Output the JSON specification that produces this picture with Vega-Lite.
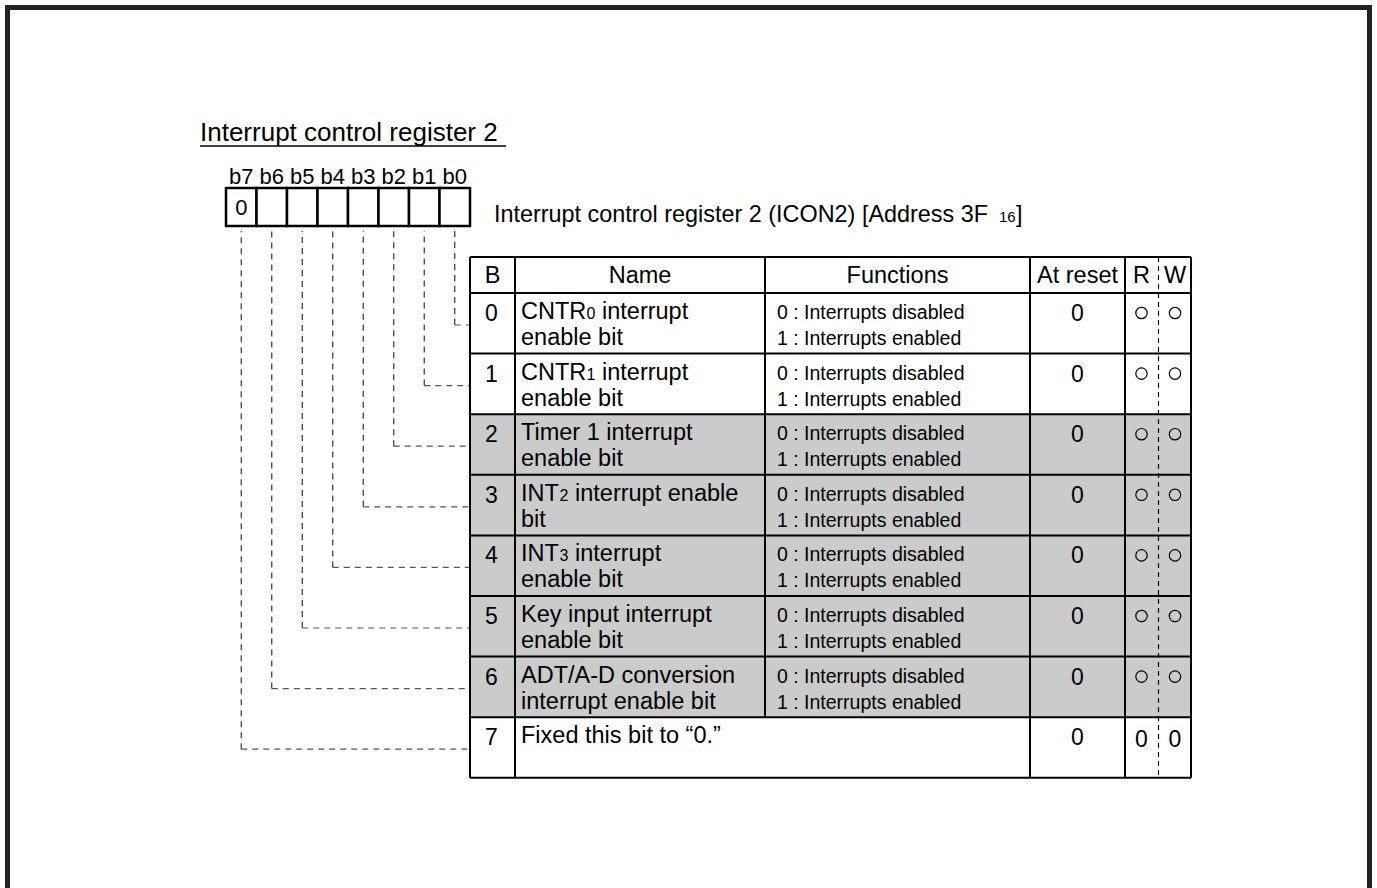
{
  "$schema": "https://vega.github.io/schema/vega-lite/v6.json",
  "width": 1377,
  "height": 888,
  "padding": 0,
  "autosize": {"type": "none"},
  "background": "white",
  "config": {"view": {"stroke": null}, "text": {"font": "Liberation Sans", "color": "black"}},
  "datasets": {
    "bits": [
      {"bit": 7, "label": "b7", "init": "0", "left": 226, "right": 256.5, "center": 241.25, "top": -1.023, "edge": 470},
      {"bit": 6, "label": "b6", "init": "", "left": 256.5, "right": 287, "center": 271.75, "top": -1.023, "edge": 470},
      {"bit": 5, "label": "b5", "init": "", "left": 287, "right": 317.5, "center": 302.25, "top": -1.023, "edge": 470},
      {"bit": 4, "label": "b4", "init": "", "left": 317.5, "right": 348, "center": 332.75, "top": -1.023, "edge": 470},
      {"bit": 3, "label": "b3", "init": "", "left": 348, "right": 378.5, "center": 363.25, "top": -1.023, "edge": 470},
      {"bit": 2, "label": "b2", "init": "", "left": 378.5, "right": 409, "center": 393.75, "top": -1.023, "edge": 470},
      {"bit": 1, "label": "b1", "init": "", "left": 409, "right": 439.5, "center": 424.25, "top": -1.023, "edge": 470},
      {"bit": 0, "label": "b0", "init": "", "left": 439.5, "right": 470, "center": 454.75, "top": -1.023, "edge": 470}
    ],
    "columns": [
      {"name": "B", "center": 492.5},
      {"name": "Name", "center": 640},
      {"name": "Functions", "center": 897.5},
      {"name": "At reset", "center": 1077.5},
      {"name": "R", "center": 1141.5},
      {"name": "W", "center": 1175}
    ],
    "rows": [
      {"bit": 0, "b": "0", "pre": "CNTR", "sub": "0", "post": "interrupt", "n2": "enable bit", "f0": "0 : Interrupts disabled", "f1": "1 : Interrupts enabled", "reset": "0", "r": "○", "w": "○"},
      {"bit": 1, "b": "1", "pre": "CNTR", "sub": "1", "post": "interrupt", "n2": "enable bit", "f0": "0 : Interrupts disabled", "f1": "1 : Interrupts enabled", "reset": "0", "r": "○", "w": "○"},
      {"bit": 2, "b": "2", "pre": "Timer 1 interrupt", "sub": "", "post": "", "n2": "enable bit", "f0": "0 : Interrupts disabled", "f1": "1 : Interrupts enabled", "reset": "0", "r": "○", "w": "○"},
      {"bit": 3, "b": "3", "pre": "INT", "sub": "2", "post": "interrupt enable", "n2": "bit", "f0": "0 : Interrupts disabled", "f1": "1 : Interrupts enabled", "reset": "0", "r": "○", "w": "○"},
      {"bit": 4, "b": "4", "pre": "INT", "sub": "3", "post": "interrupt", "n2": "enable bit", "f0": "0 : Interrupts disabled", "f1": "1 : Interrupts enabled", "reset": "0", "r": "○", "w": "○"},
      {"bit": 5, "b": "5", "pre": "Key input interrupt", "sub": "", "post": "", "n2": "enable bit", "f0": "0 : Interrupts disabled", "f1": "1 : Interrupts enabled", "reset": "0", "r": "○", "w": "○"},
      {"bit": 6, "b": "6", "pre": "ADT/A-D conversion", "sub": "", "post": "", "n2": "interrupt enable bit", "f0": "0 : Interrupts disabled", "f1": "1 : Interrupts enabled", "reset": "0", "r": "○", "w": "○"},
      {"bit": 7, "b": "7", "pre": "Fixed this bit to “0.”", "sub": "", "post": "", "n2": "", "f0": "", "f1": "", "reset": "0", "r": "0", "w": "0"}
    ]
  },
  "layer": [
    {
      "data": {"values": [{"id": "frame"}]},
      "mark": {"type": "rect", "fill": "white", "fillOpacity": 0, "stroke": "#222222", "strokeWidth": 5},
      "encoding": {
        "x": {"datum": 7.5, "type": "quantitative", "scale": {"domain": [0, 1377], "nice": false, "zero": false}, "axis": null},
        "x2": {"datum": 1369.5},
        "y": {"datum": -4.711, "type": "quantitative", "scale": {"domain": [-4.835, 9.818], "nice": false, "zero": false, "reverse": true}, "axis": null},
        "y2": {"datum": 10}
      }
    },
    {
      "data": {"values": [{"t": "Interrupt control register 2"}]},
      "mark": {"type": "text", "align": "left", "baseline": "alphabetic", "fontSize": 26},
      "encoding": {
        "x": {"datum": 200, "type": "quantitative", "scale": {"domain": [0, 1377], "nice": false, "zero": false}, "axis": null},
        "y": {"datum": -2.508, "type": "quantitative", "scale": {"domain": [-4.835, 9.818], "nice": false, "zero": false, "reverse": true}, "axis": null},
        "text": {"field": "t"}
      }
    },
    {
      "data": {"values": [{"id": "underline"}]},
      "mark": {"type": "rule", "stroke": "black", "strokeWidth": 1.5},
      "encoding": {
        "x": {"datum": 200, "type": "quantitative", "scale": {"domain": [0, 1377], "nice": false, "zero": false}, "axis": null},
        "x2": {"datum": 506},
        "y": {"datum": -2.426, "type": "quantitative", "scale": {"domain": [-4.835, 9.818], "nice": false, "zero": false, "reverse": true}, "axis": null}
      }
    },
    {
      "data": {"name": "bits"},
      "mark": {"type": "text", "align": "center", "baseline": "alphabetic", "fontSize": 22},
      "encoding": {
        "x": {"field": "center", "type": "quantitative", "scale": {"domain": [0, 1377], "nice": false, "zero": false}, "axis": null},
        "y": {"datum": -1.799, "type": "quantitative", "scale": {"domain": [-4.835, 9.818], "nice": false, "zero": false, "reverse": true}, "axis": null},
        "text": {"field": "label"}
      }
    },
    {
      "data": {"name": "bits"},
      "mark": {"type": "rect", "fill": "white", "stroke": "black", "strokeWidth": 2.5},
      "encoding": {
        "x": {"field": "left", "type": "quantitative", "scale": {"domain": [0, 1377], "nice": false, "zero": false}, "axis": null},
        "x2": {"field": "right"},
        "y": {"datum": -1.733, "type": "quantitative", "scale": {"domain": [-4.835, 9.818], "nice": false, "zero": false, "reverse": true}, "axis": null},
        "y2": {"datum": -1.106}
      }
    },
    {
      "data": {"name": "bits"},
      "mark": {"type": "text", "align": "center", "baseline": "alphabetic", "fontSize": 22},
      "encoding": {
        "x": {"field": "center", "type": "quantitative", "scale": {"domain": [0, 1377], "nice": false, "zero": false}, "axis": null},
        "y": {"datum": -1.287, "type": "quantitative", "scale": {"domain": [-4.835, 9.818], "nice": false, "zero": false, "reverse": true}, "axis": null},
        "text": {"field": "init"}
      }
    },
    {
      "data": {"name": "bits"},
      "mark": {"type": "rule", "stroke": "#333333", "strokeWidth": 1.2, "strokeDash": [6, 5], "yOffset": 32},
      "encoding": {
        "x": {"field": "center", "type": "quantitative", "scale": {"domain": [0, 1377], "nice": false, "zero": false}, "axis": null},
        "y": {"field": "bit", "type": "quantitative", "scale": {"domain": [-4.835, 9.818], "nice": false, "zero": false, "reverse": true}, "axis": null},
        "y2": {"field": "top"}
      }
    },
    {
      "data": {"name": "bits"},
      "mark": {"type": "rule", "stroke": "#555555", "strokeWidth": 1.2, "strokeDash": [6, 5], "yOffset": 32},
      "encoding": {
        "x": {"field": "center", "type": "quantitative", "scale": {"domain": [0, 1377], "nice": false, "zero": false}, "axis": null},
        "x2": {"field": "edge"},
        "y": {"field": "bit", "type": "quantitative", "scale": {"domain": [-4.835, 9.818], "nice": false, "zero": false, "reverse": true}, "axis": null}
      }
    },
    {
      "data": {"values": [{"t": "Interrupt control register 2 (ICON2) [Address 3F"}]},
      "mark": {"type": "text", "align": "left", "baseline": "alphabetic", "fontSize": 23.4},
      "encoding": {
        "x": {"datum": 494, "type": "quantitative", "scale": {"domain": [0, 1377], "nice": false, "zero": false}, "axis": null},
        "y": {"datum": -1.172, "type": "quantitative", "scale": {"domain": [-4.835, 9.818], "nice": false, "zero": false, "reverse": true}, "axis": null},
        "text": {"field": "t"}
      }
    },
    {
      "data": {"values": [{"t": "16"}]},
      "mark": {"type": "text", "align": "left", "baseline": "alphabetic", "fontSize": 15},
      "encoding": {
        "x": {"datum": 999, "type": "quantitative", "scale": {"domain": [0, 1377], "nice": false, "zero": false}, "axis": null},
        "y": {"datum": -1.172, "type": "quantitative", "scale": {"domain": [-4.835, 9.818], "nice": false, "zero": false, "reverse": true}, "axis": null},
        "text": {"field": "t"}
      }
    },
    {
      "data": {"values": [{"t": "]"}]},
      "mark": {"type": "text", "align": "left", "baseline": "alphabetic", "fontSize": 23.4},
      "encoding": {
        "x": {"datum": 1016, "type": "quantitative", "scale": {"domain": [0, 1377], "nice": false, "zero": false}, "axis": null},
        "y": {"datum": -1.172, "type": "quantitative", "scale": {"domain": [-4.835, 9.818], "nice": false, "zero": false, "reverse": true}, "axis": null},
        "text": {"field": "t"}
      }
    },
    {
      "data": {"values": [{"id": "shade"}]},
      "mark": {"type": "rect", "fill": "#cbcbcb"},
      "encoding": {
        "x": {"datum": 470, "type": "quantitative", "scale": {"domain": [0, 1377], "nice": false, "zero": false}, "axis": null},
        "x2": {"datum": 1191},
        "y": {"datum": 2, "type": "quantitative", "scale": {"domain": [-4.835, 9.818], "nice": false, "zero": false, "reverse": true}, "axis": null},
        "y2": {"datum": 7}
      }
    },
    {
      "data": {"name": "rows"},
      "mark": {"type": "rule", "stroke": "black", "strokeWidth": 2},
      "encoding": {
        "x": {"datum": 470, "type": "quantitative", "scale": {"domain": [0, 1377], "nice": false, "zero": false}, "axis": null},
        "x2": {"datum": 1191},
        "y": {"field": "bit", "type": "quantitative", "scale": {"domain": [-4.835, 9.818], "nice": false, "zero": false, "reverse": true}, "axis": null}
      }
    },
    {
      "data": {"values": [{"edge": -0.594}, {"edge": 8}]},
      "mark": {"type": "rule", "stroke": "black", "strokeWidth": 2},
      "encoding": {
        "x": {"datum": 470, "type": "quantitative", "scale": {"domain": [0, 1377], "nice": false, "zero": false}, "axis": null},
        "x2": {"datum": 1191},
        "y": {"field": "edge", "type": "quantitative", "scale": {"domain": [-4.835, 9.818], "nice": false, "zero": false, "reverse": true}, "axis": null}
      }
    },
    {
      "data": {"values": [{"edge": 470}, {"edge": 515}, {"edge": 1030}, {"edge": 1125}, {"edge": 1191}]},
      "mark": {"type": "rule", "stroke": "black", "strokeWidth": 2},
      "encoding": {
        "x": {"field": "edge", "type": "quantitative", "scale": {"domain": [0, 1377], "nice": false, "zero": false}, "axis": null},
        "y": {"datum": -0.594, "type": "quantitative", "scale": {"domain": [-4.835, 9.818], "nice": false, "zero": false, "reverse": true}, "axis": null},
        "y2": {"datum": 8}
      }
    },
    {
      "data": {"values": [{"id": "functions edge"}]},
      "mark": {"type": "rule", "stroke": "black", "strokeWidth": 2},
      "encoding": {
        "x": {"datum": 765, "type": "quantitative", "scale": {"domain": [0, 1377], "nice": false, "zero": false}, "axis": null},
        "y": {"datum": -0.594, "type": "quantitative", "scale": {"domain": [-4.835, 9.818], "nice": false, "zero": false, "reverse": true}, "axis": null},
        "y2": {"datum": 7}
      }
    },
    {
      "data": {"values": [{"id": "rw divider"}]},
      "mark": {"type": "rule", "stroke": "black", "strokeWidth": 1.2, "strokeDash": [5, 4]},
      "encoding": {
        "x": {"datum": 1158.5, "type": "quantitative", "scale": {"domain": [0, 1377], "nice": false, "zero": false}, "axis": null},
        "y": {"datum": -0.594, "type": "quantitative", "scale": {"domain": [-4.835, 9.818], "nice": false, "zero": false, "reverse": true}, "axis": null},
        "y2": {"datum": 8}
      }
    },
    {
      "data": {"name": "columns"},
      "mark": {"type": "text", "align": "center", "baseline": "alphabetic", "fontSize": 23.5},
      "encoding": {
        "x": {"field": "center", "type": "quantitative", "scale": {"domain": [0, 1377], "nice": false, "zero": false}, "axis": null},
        "y": {"datum": -0.165, "type": "quantitative", "scale": {"domain": [-4.835, 9.818], "nice": false, "zero": false, "reverse": true}, "axis": null},
        "text": {"field": "name"}
      }
    },
    {
      "data": {"name": "rows"},
      "mark": {"type": "text", "align": "center", "baseline": "alphabetic", "fontSize": 23, "dy": 28},
      "encoding": {
        "x": {"datum": 491.5, "type": "quantitative", "scale": {"domain": [0, 1377], "nice": false, "zero": false}, "axis": null},
        "y": {"field": "bit", "type": "quantitative", "scale": {"domain": [-4.835, 9.818], "nice": false, "zero": false, "reverse": true}, "axis": null},
        "text": {"field": "b"}
      }
    },
    {
      "data": {"name": "rows"},
      "mark": {"type": "text", "align": "left", "baseline": "alphabetic", "fontSize": 23.5, "dy": 26},
      "encoding": {
        "x": {"datum": 521, "type": "quantitative", "scale": {"domain": [0, 1377], "nice": false, "zero": false}, "axis": null},
        "y": {"field": "bit", "type": "quantitative", "scale": {"domain": [-4.835, 9.818], "nice": false, "zero": false, "reverse": true}, "axis": null},
        "text": {"field": "pre"}
      }
    },
    {
      "data": {"name": "rows"},
      "transform": [{"filter": "datum.pre == 'CNTR'"}],
      "mark": {"type": "text", "align": "left", "baseline": "alphabetic", "fontSize": 16, "dy": 26},
      "encoding": {
        "x": {"datum": 586.5, "type": "quantitative", "scale": {"domain": [0, 1377], "nice": false, "zero": false}, "axis": null},
        "y": {"field": "bit", "type": "quantitative", "scale": {"domain": [-4.835, 9.818], "nice": false, "zero": false, "reverse": true}, "axis": null},
        "text": {"field": "sub"}
      }
    },
    {
      "data": {"name": "rows"},
      "transform": [{"filter": "datum.pre == 'CNTR'"}],
      "mark": {"type": "text", "align": "left", "baseline": "alphabetic", "fontSize": 23.5, "dy": 26},
      "encoding": {
        "x": {"datum": 602, "type": "quantitative", "scale": {"domain": [0, 1377], "nice": false, "zero": false}, "axis": null},
        "y": {"field": "bit", "type": "quantitative", "scale": {"domain": [-4.835, 9.818], "nice": false, "zero": false, "reverse": true}, "axis": null},
        "text": {"field": "post"}
      }
    },
    {
      "data": {"name": "rows"},
      "transform": [{"filter": "datum.pre == 'INT'"}],
      "mark": {"type": "text", "align": "left", "baseline": "alphabetic", "fontSize": 16, "dy": 26},
      "encoding": {
        "x": {"datum": 559.5, "type": "quantitative", "scale": {"domain": [0, 1377], "nice": false, "zero": false}, "axis": null},
        "y": {"field": "bit", "type": "quantitative", "scale": {"domain": [-4.835, 9.818], "nice": false, "zero": false, "reverse": true}, "axis": null},
        "text": {"field": "sub"}
      }
    },
    {
      "data": {"name": "rows"},
      "transform": [{"filter": "datum.pre == 'INT'"}],
      "mark": {"type": "text", "align": "left", "baseline": "alphabetic", "fontSize": 23.5, "dy": 26},
      "encoding": {
        "x": {"datum": 575, "type": "quantitative", "scale": {"domain": [0, 1377], "nice": false, "zero": false}, "axis": null},
        "y": {"field": "bit", "type": "quantitative", "scale": {"domain": [-4.835, 9.818], "nice": false, "zero": false, "reverse": true}, "axis": null},
        "text": {"field": "post"}
      }
    },
    {
      "data": {"name": "rows"},
      "mark": {"type": "text", "align": "left", "baseline": "alphabetic", "fontSize": 23.5, "dy": 52},
      "encoding": {
        "x": {"datum": 521, "type": "quantitative", "scale": {"domain": [0, 1377], "nice": false, "zero": false}, "axis": null},
        "y": {"field": "bit", "type": "quantitative", "scale": {"domain": [-4.835, 9.818], "nice": false, "zero": false, "reverse": true}, "axis": null},
        "text": {"field": "n2"}
      }
    },
    {
      "data": {"name": "rows"},
      "mark": {"type": "text", "align": "left", "baseline": "alphabetic", "fontSize": 19.5, "dy": 26},
      "encoding": {
        "x": {"datum": 777, "type": "quantitative", "scale": {"domain": [0, 1377], "nice": false, "zero": false}, "axis": null},
        "y": {"field": "bit", "type": "quantitative", "scale": {"domain": [-4.835, 9.818], "nice": false, "zero": false, "reverse": true}, "axis": null},
        "text": {"field": "f0"}
      }
    },
    {
      "data": {"name": "rows"},
      "mark": {"type": "text", "align": "left", "baseline": "alphabetic", "fontSize": 19.5, "dy": 52},
      "encoding": {
        "x": {"datum": 777, "type": "quantitative", "scale": {"domain": [0, 1377], "nice": false, "zero": false}, "axis": null},
        "y": {"field": "bit", "type": "quantitative", "scale": {"domain": [-4.835, 9.818], "nice": false, "zero": false, "reverse": true}, "axis": null},
        "text": {"field": "f1"}
      }
    },
    {
      "data": {"name": "rows"},
      "mark": {"type": "text", "align": "center", "baseline": "alphabetic", "fontSize": 23, "dy": 28},
      "encoding": {
        "x": {"datum": 1077.5, "type": "quantitative", "scale": {"domain": [0, 1377], "nice": false, "zero": false}, "axis": null},
        "y": {"field": "bit", "type": "quantitative", "scale": {"domain": [-4.835, 9.818], "nice": false, "zero": false, "reverse": true}, "axis": null},
        "text": {"field": "reset"}
      }
    },
    {
      "data": {"name": "rows"},
      "transform": [{"filter": "datum.r == '○'"}],
      "mark": {"type": "point", "shape": "circle", "filled": false, "size": 130, "stroke": "black", "strokeWidth": 1.2, "opacity": 1, "yOffset": 20},
      "encoding": {
        "x": {"datum": 1141.5, "type": "quantitative", "scale": {"domain": [0, 1377], "nice": false, "zero": false}, "axis": null},
        "y": {"field": "bit", "type": "quantitative", "scale": {"domain": [-4.835, 9.818], "nice": false, "zero": false, "reverse": true}, "axis": null}
      }
    },
    {
      "data": {"name": "rows"},
      "transform": [{"filter": "datum.w == '○'"}],
      "mark": {"type": "point", "shape": "circle", "filled": false, "size": 130, "stroke": "black", "strokeWidth": 1.2, "opacity": 1, "yOffset": 20},
      "encoding": {
        "x": {"datum": 1175, "type": "quantitative", "scale": {"domain": [0, 1377], "nice": false, "zero": false}, "axis": null},
        "y": {"field": "bit", "type": "quantitative", "scale": {"domain": [-4.835, 9.818], "nice": false, "zero": false, "reverse": true}, "axis": null}
      }
    },
    {
      "data": {"name": "rows"},
      "transform": [{"filter": "datum.r == '0'"}],
      "mark": {"type": "text", "align": "center", "baseline": "alphabetic", "fontSize": 23, "dy": 30},
      "encoding": {
        "x": {"datum": 1141.5, "type": "quantitative", "scale": {"domain": [0, 1377], "nice": false, "zero": false}, "axis": null},
        "y": {"field": "bit", "type": "quantitative", "scale": {"domain": [-4.835, 9.818], "nice": false, "zero": false, "reverse": true}, "axis": null},
        "text": {"field": "r"}
      }
    },
    {
      "data": {"name": "rows"},
      "transform": [{"filter": "datum.w == '0'"}],
      "mark": {"type": "text", "align": "center", "baseline": "alphabetic", "fontSize": 23, "dy": 30},
      "encoding": {
        "x": {"datum": 1175, "type": "quantitative", "scale": {"domain": [0, 1377], "nice": false, "zero": false}, "axis": null},
        "y": {"field": "bit", "type": "quantitative", "scale": {"domain": [-4.835, 9.818], "nice": false, "zero": false, "reverse": true}, "axis": null},
        "text": {"field": "w"}
      }
    }
  ]
}
